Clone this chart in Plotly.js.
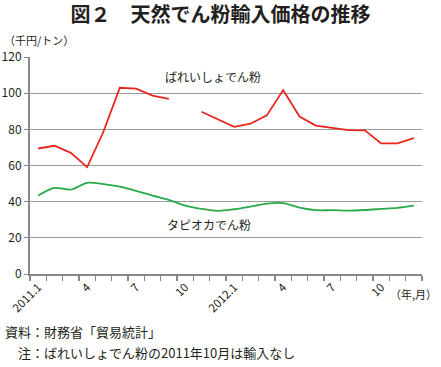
<!DOCTYPE html>
<html><head><meta charset="utf-8">
<script src="https://cdn.plot.ly/plotly-3.0.1.min.js"></script>
<style>html,body{margin:0;padding:0;background:#fff;}#chart{width:441px;height:367px;}</style>
</head><body><div id="chart"></div>
<script>
const months = ['2011.1','2011.2','2011.3','2011.4','2011.5','2011.6','2011.7','2011.8','2011.9','2011.10','2011.11','2011.12',
  '2012.1','2012.2','2012.3','2012.4','2012.5','2012.6','2012.7','2012.8','2012.9','2012.10','2012.11','2012.12'];
const tickLabels = ['2011.1','','','4','','','7','','','10','','','2012.1','','','4','','','7','','','10','',''];
const potato = [69.4,70.9,67.0,59.1,78.8,103.0,102.5,98.7,96.8,null,89.7,85.5,81.4,83.1,87.7,101.7,87.1,82.1,81.0,79.6,79.4,72.2,72.2,75.1];
const tapioca = [43.4,47.6,46.7,50.4,49.7,48.3,46.0,43.4,41.0,37.8,36.0,34.9,35.8,37.3,38.9,39.2,36.7,35.3,35.3,35.1,35.4,36.0,36.6,37.8];
const potatoName = 'ばれいしょでん粉';
const tapiocaName = 'タピオカでん粉';

const FONT = '"Noto Sans CJK JP", "Noto Sans", sans-serif';
const TXT = '#231f20';

const data = [
  {x: months, y: potato, type: 'scatter', mode: 'lines', name: potatoName, connectgaps: false,
   line: {color: '#e8261e', width: 1.8}},
  {x: months, y: tapioca, type: 'scatter', mode: 'lines', name: tapiocaName,
   line: {color: '#2aa84a', width: 1.8, shape: 'spline', smoothing: 0.8}}
];

const layout = {
  width: 441, height: 367,
  margin: {l: 30, r: 19, t: 57, b: 93},
  paper_bgcolor: '#fff', plot_bgcolor: '#fff',
  showlegend: false,
  font: {family: FONT, color: TXT, size: 11.5},
  title: {text: '<b>図２　天然でん粉輸入価格の推移</b>', x: 0.5, xref: 'container', y: 0.959, yref: 'container', yanchor: 'middle',
    font: {family: FONT, size: 20, color: TXT}},
  xaxis: {type: 'category', tickvals: months, ticktext: tickLabels, tickangle: -45, range: [-0.5, 23.5], autorange: false,
    tickson: 'boundaries', ticks: 'outside', ticklen: 5, tickcolor: '#888', tickwidth: 1.3,
    showline: true, linecolor: '#888', linewidth: 2, showgrid: false, zeroline: false,
    tickfont: {size: 11.5, color: TXT}, fixedrange: true},
  yaxis: {range: [0, 120], dtick: 20, tick0: 0, ticks: 'outside', ticklen: 4, tickcolor: '#888',
    showline: true, linecolor: '#888', linewidth: 2, showgrid: true, gridcolor: '#9a9a9a', gridwidth: 1.3,
    zeroline: false, tickfont: {size: 12, color: TXT}, fixedrange: true},
  annotations: [
    {text: potatoName, xref: 'paper', yref: 'paper', x: 0.468, y: 0.912, showarrow: false, xanchor: 'center', yanchor: 'middle', font: {size: 12}},
    {text: tapiocaName, xref: 'paper', yref: 'paper', x: 0.457, y: 0.230, showarrow: false, xanchor: 'center', yanchor: 'middle', font: {size: 12}},
    {text: '（年,月）', xref: 'paper', yref: 'paper', x: 1.043, y: -0.092, showarrow: false, xanchor: 'right', yanchor: 'middle', font: {size: 11}},
    {text: '（千円/トン）', xref: 'paper', yref: 'paper', x: -0.0714, y: 1.078, showarrow: false, xanchor: 'left', yanchor: 'middle', font: {size: 11}},
    {text: '資料：財務省「貿易統計」', xref: 'paper', yref: 'paper', x: -0.0689, y: -0.267, showarrow: false, xanchor: 'left', yanchor: 'middle', font: {size: 13}},
    {text: '注：ばれいしょでん粉の2011年10月は輸入なし', xref: 'paper', yref: 'paper', x: -0.0357, y: -0.364, showarrow: false, xanchor: 'left', yanchor: 'middle', font: {size: 13}}
  ]
};

Plotly.newPlot('chart', data, layout, {staticPlot: true, displayModeBar: false});
</script></body></html>
